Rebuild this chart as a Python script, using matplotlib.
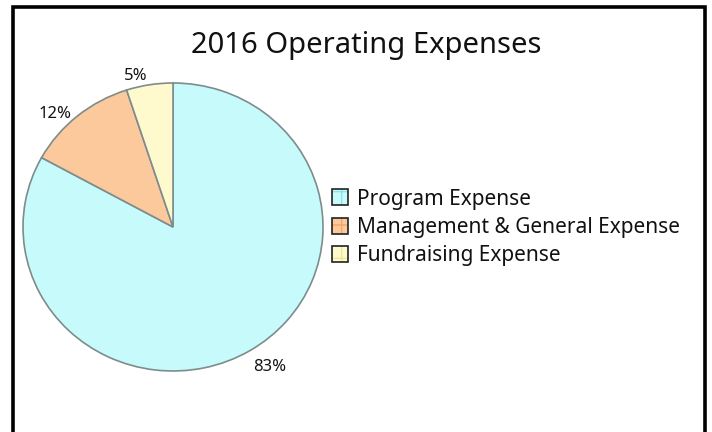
import numpy as np
import matplotlib
matplotlib.use("Agg")
import matplotlib.pyplot as plt
from matplotlib.patches import Rectangle
from matplotlib.legend_handler import HandlerTuple
from matplotlib.transforms import offset_copy

plt.rcParams['font.family'] = ['Noto Sans', 'DejaVu Sans']

# Expense breakdown
categories = ["Program Expense", "Management & General Expense", "Fundraising Expense"]
shares = [83, 12, 5]
pct_labels = ["83%", "12%", "5%"]
colors = ["#C6FAFB", "#FBC99C", "#FFFACD"]
hatch_colors = ["#8FE3E8", "#F2A66A", "#EDE79A"]

W, H = 712, 432
fig = plt.figure(figsize=(W / 100, H / 100), dpi=100)
fig.patch.set_facecolor("white")

# outer frame (runs off the bottom edge)
fig.patches.append(Rectangle((12.5, -20), 692.5, 432 - 6.5 + 20, transform=None,
                             fill=False, edgecolor="black", linewidth=2.6,
                             zorder=0))

# pie axes: centre (173, 227) px from top, radii 150 x 144 px
cx, cy = 173, H - 227
rx, ry = 150, 144
xl, yl = 1.1, 1.3
ax = fig.add_axes([(cx - xl * rx) / W, (cy - yl * ry) / H,
                   2 * xl * rx / W, 2 * yl * ry / H])
wedges, _ = ax.pie(shares, colors=colors, startangle=90, counterclock=False,
                   wedgeprops=dict(edgecolor="#7F8C8C", linewidth=1.2))
ax.set_aspect("auto")
ax.set_xlim(-xl, xl)
ax.set_ylim(-yl, yl)
ax.axis("off")

# percentage labels just outside each wedge
label_tr = offset_copy(ax.transData, fig=fig, x=0, y=-4, units="points")
for w, lab in zip(wedges, pct_labels):
    ang = np.deg2rad((w.theta1 + w.theta2) / 2 + 4)
    r = 1.1 + 0.06 * abs(np.cos(ang))
    ax.text(r * np.cos(ang), r * np.sin(ang), lab, ha="center",
            va="center", fontsize=12, color="#111111", transform=label_tr)

fig.text(366 / W, (H - 53) / H, "2016 Operating Expenses", ha="center",
         va="baseline", fontsize=21, color="#111111")

handles = []
for c, hc in zip(colors, hatch_colors):
    fill = Rectangle((0, 0), 1, 1, facecolor=c, edgecolor=hc, hatch="+",
                     linewidth=0)
    edge = Rectangle((0, 0), 1, 1, facecolor="none", edgecolor="#222222",
                     linewidth=1.2)
    handles.append((fill, edge))

fig.legend(handles, categories, handler_map={tuple: HandlerTuple(ndivide=1)},
           loc="center left", bbox_to_anchor=(332 / W, (H - 227.5) / H),
           frameon=False, fontsize=15, handlelength=0.78, handleheight=0.78,
           handletextpad=0.4, labelspacing=0.36, borderpad=0, borderaxespad=0,
           labelcolor="#111111")

fig.savefig("out.png", dpi=100)
